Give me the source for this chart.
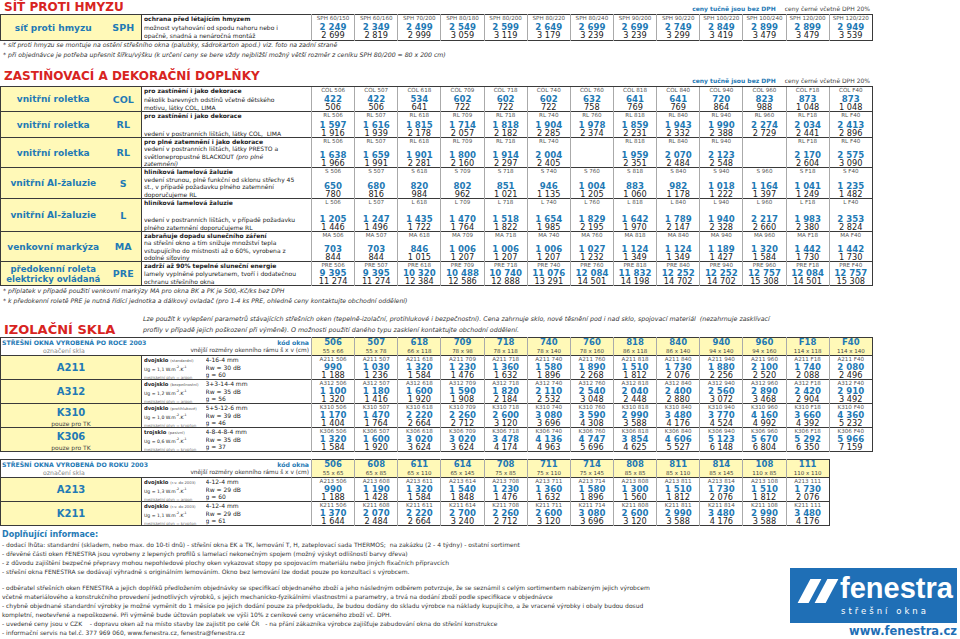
<!DOCTYPE html>
<html lang="cs">
<head>
<meta charset="utf-8">
<script src="https://cdn.jsdelivr.net/npm/chart.js@4.4.1/dist/chart.umd.min.js"></script>
<style>
html,body{margin:0;padding:0;background:#fff}
body{width:960px;height:639px;position:relative;overflow:hidden;font-family:"DejaVu Sans",Verdana,sans-serif;color:#222}
.abs{position:absolute;white-space:nowrap}
.h1{left:4px;font-weight:bold;font-size:12px;color:#d8241f}
.note{font-size:6px;right:90px}
.note b{color:#1f7ab5}
.note span{color:#444;margin-left:9px}
.fn{left:3px;font-size:6.2px;font-style:italic;color:#333}
table{border-collapse:collapse;table-layout:fixed;position:absolute;left:0}
td{padding:0;overflow:hidden;white-space:nowrap;vertical-align:top}
tr.r>td{border-top:1px solid #3a3a3a}
.yl{background:#fff9b8}
.nm{color:#1f7ab5;font-weight:bold;font-size:9px;text-align:center;vertical-align:middle;line-height:10px}
.cdL{color:#1f7ab5;font-weight:bold;font-size:9.5px;text-align:center;vertical-align:middle}
.ds{border-left:1px solid #3a3a3a;font-size:6px;line-height:7px;padding-left:2px}
.ds .b{font-weight:bold}
.pc{border-left:1px solid #aaa;text-align:center}
.pw{display:flex;flex-direction:column;justify-content:space-between;overflow:hidden}
.cd{font-size:5.6px;line-height:6.5px;color:#555}
.nt{font-size:8.6px;line-height:8.5px;font-weight:bold;color:#1f7ab5}
.gr{font-size:8.2px;line-height:8px;color:#222}
.gname{color:#1f7ab5;font-weight:bold;font-size:10px;text-align:center;vertical-align:middle}
.gname .tk{font-size:6px;font-weight:normal;color:#444;line-height:7px}
.gds{font-size:6px;line-height:7.6px;padding-left:2px}
.gds .b{font-weight:bold;font-size:5.2px;color:#222}
.gds .s{color:#555;font-size:3.8px}
.gds .u{font-size:4.6px}
.gds .m{color:#777;font-size:4px}
.gds sup{font-size:3.2px;line-height:0}
.hl{font-size:6.2px;position:relative}
.hl .a{position:absolute;white-space:nowrap}
.hc{text-align:center;border-left:1px solid #aaa}
.hc .c{font-size:8.5px;font-weight:bold;color:#1f7ab5;line-height:9px}
.hc .z{font-size:5.5px;color:#444;line-height:8px}
.intro{left:143px;font-size:6.3px;font-style:italic;line-height:11px;color:#333}
.foot{left:2px;top:529px;font-size:6px;line-height:9px;color:#333}
.foot .tt{font-size:8px;font-weight:bold;color:#1f7ab5;line-height:11px}
.logo{left:790px;top:568px;width:167px;height:55px;background:#1f6fb6}
.sl{position:absolute;top:11px;width:11px;height:24px;background:#fff;transform:skewX(-28deg)}
.www{right:3px;top:624px;font-size:11.5px;font-weight:bold;color:#1f6fb6}
</style>
</head>
<body>
<div id="page"></div>
<script>
// --- síť proti hmyzu
const sphCodes = ['SPH 60/150','SPH 60/160','SPH 70/200','SPH 80/180','SPH 80/200','SPH 80/220','SPH 80/240','SPH 90/200','SPH 90/220','SPH 100/220','SPH 100/240','SPH 120/200','SPH 120/220'];
const sphNet   = [2249, 2349, 2499, 2549, 2599, 2649, 2699, 2699, 2749, 2849, 2899, 2899, 2949];
const sphGross = [2699, 2819, 2999, 3059, 3119, 3179, 3239, 3239, 3299, 3419, 3479, 3479, 3539];

// --- zastiňovací doplňky (rozměry oken)
const shadeSizes = ['506','507','618','709','718','740','760','818','840','940','960','F18','F40'];
const colNet   = [422, 422, 534, 602, 602, 602, 632, 641, 641, 720, 823, 873, 873];
const colGross = [506, 506, 641, 722, 722, 722, 758, 769, 769, 864, 988, 1048, 1048];
const rlNet    = [1597, 1616, 1815, 1714, 1818, 1904, 1978, 1859, 1943, 1990, 2274, 2034, 2413];
const rlGross  = [1916, 1939, 2178, 2057, 2182, 2285, 2374, 2231, 2332, 2388, 2729, 2441, 2896];
const rlbNet   = [1638, 1659, 1901, 1800, 1914, 2004, null, 1959, 2070, 2123, null, 2170, 2575];
const rlbGross = [1966, 1991, 2281, 2160, 2297, 2405, null, 2351, 2484, 2548, null, 2604, 3090];
const sNet     = [650, 680, 820, 802, 851, 946, 1004, 883, 982, 1018, 1164, 1041, 1235];
const sGross   = [780, 816, 984, 962, 1021, 1135, 1205, 1060, 1178, 1222, 1397, 1249, 1482];
const lNet     = [1205, 1247, 1435, 1470, 1518, 1654, 1829, 1642, 1789, 1940, 2217, 1983, 2353];
const lGross   = [1446, 1496, 1722, 1764, 1822, 1985, 2195, 1970, 2147, 2328, 2660, 2380, 2824];
const maNet    = [703, 703, 846, 1006, 1006, 1006, 1027, 1124, 1124, 1189, 1320, 1442, 1442];
const maGross  = [844, 844, 1015, 1207, 1207, 1207, 1232, 1349, 1349, 1427, 1584, 1730, 1730];
const preNet   = [9395, 9395, 10320, 10488, 10740, 11076, 12084, 11832, 12252, 12252, 12757, 12084, 12757];
const preGross = [11274, 11274, 12384, 12586, 12888, 13291, 14501, 14198, 14702, 14702, 15308, 14501, 15308];

// --- izolační skla, okna po roce 2003
const newCodes = ['506','507','618','709','718','740','760','818','840','940','960','F18','F40'];
const newSizes = ['55 x 66','55 x 78','66 x 118','78 x 98','78 x 118','78 x 140','78 x 160','86 x 118','86 x 140','94 x 140','94 x 160','114 x 118','114 x 140'];
const a211Net   = [990, 1030, 1320, 1230, 1360, 1580, 1890, 1510, 1730, 1880, 2100, 1740, 2080];
const a211Gross = [1188, 1236, 1584, 1476, 1632, 1896, 2268, 1812, 2076, 2256, 2520, 2088, 2496];
const a312Net   = [1100, 1180, 1600, 1590, 1820, 2110, 2540, 2040, 2400, 2560, 2890, 2420, 2910];
const a312Gross = [1320, 1416, 1920, 1908, 2184, 2532, 3048, 2448, 2880, 3072, 3468, 2904, 3492];
const k310Net   = [1170, 1470, 2220, 2260, 2600, 3080, 3590, 2990, 3480, 3770, 4160, 3660, 4360];
const k310Gross = [1404, 1764, 2664, 2712, 3120, 3696, 4308, 3588, 4176, 4524, 4992, 4392, 5232];
const k306Net   = [1320, 1600, 3020, 3020, 3478, 4136, 4747, 3854, 4606, 5123, 5670, 5292, 5966];
const k306Gross = [1584, 1920, 3624, 3624, 4174, 4963, 5696, 4625, 5527, 6148, 6804, 6350, 7159];

// --- izolační skla, okna do roku 2003
const oldCodes = ['506','608','611','614','708','711','714','808','811','814','108','111'];
const oldSizes = ['55 x 65','65 x 85','65 x 110','65 x 145','75 x 85','75 x 110','75 x 145','85 x 85','85 x 110','85 x 145','110 x 85','110 x 110'];
const a213Net   = [990, 1190, 1320, 1540, 1230, 1360, 1580, 1300, 1510, 1730, 1510, 1730];
const a213Gross = [1188, 1428, 1584, 1848, 1476, 1632, 1896, 1560, 1812, 2076, 1812, 2076];
const k211Net   = [1370, 2070, 2220, 2700, 2260, 2600, 3080, 2600, 2990, 3480, 2990, 3480];
const k211Gross = [1644, 2484, 2664, 3240, 2712, 3120, 3696, 3120, 3588, 4176, 3588, 4176];

const fmt = n => n == null ? '' : String(n).replace(/\B(?=(\d{3})+(?!\d))/g, ' ');
const PW = 43.15;
const page = document.getElementById('page');
let html = '';

function priceCell(code, net, gross, h) {
  if (net == null) return `<td class="pc"></td>`;
  return `<td class="pc"><div class="pw" style="height:${h}px"><div class="cd">${code}</div>` +
    `<div><div class="nt">${fmt(net)}</div><div class="gr">${fmt(gross)}</div></div></div></td>`;
}
function cols(lead, n) {
  return '<colgroup>' + lead.map(w => `<col style="width:${w}px">`).join('') +
    Array(n).fill(`<col style="width:${PW}px">`).join('') + '</colgroup>';
}
const lines = (arr, h) => `<div class="pw" style="height:${h}px">` + arr.map((l, i) => `<div${i === 0 ? ' class="b"' : ''} style="height:7px">${l}</div>`).join('') + '</div>';
const note = top => `<div class="abs note" style="top:${top}px"><b>ceny tučně jsou bez DPH</b><span>ceny černé včetně DPH 20%</span></div>`;

// ===== SÍŤ PROTI HMYZU
html += `<div class="abs h1" style="top:0px">SÍŤ PROTI HMYZU</div>` + note(5);
html += `<table style="top:14px;width:${311 + 13 * PW}px;border:1px solid #3a3a3a">${cols([105, 36, 170], 13)}<tr style="height:26px">` +
  `<td class="yl nm">síť proti hmyzu</td><td class="yl cdL">SPH</td>` +
  `<td class="ds">${lines(['ochrana před létajícím hmyzem', 'možnost vytahování od spodu nahoru nebo i', 'opačně, snadná a nenáročná montáž'], 24)}</td>` +
  sphCodes.map((c, i) => priceCell(c, sphNet[i], sphGross[i], 24)).join('') + '</tr></table>';
html += `<div class="abs fn" style="top:41px">* síť proti hmyzu se montuje na ostění střešního okna (palubky, sádrokarton apod.) viz. foto na zadní straně</div>`;
html += `<div class="abs fn" style="top:51px">* při objednávce je potřeba upřesnit šířku/výšku (k určení ceny se bere vždy nejbližší možný větší rozměr z ceníku SPH 80/200 = 80 x 200 cm)</div>`;

// ===== ZASTIŇOVACÍ A DEKORAČNÍ DOPLŇKY
html += `<div class="abs h1" style="top:69px">ZASTIŇOVACÍ A DEKORAČNÍ DOPLŇKY</div>` + note(77);
const shadeRows = [
  ['vnitřní roletka', 'COL', ['pro zastínění i jako dekorace', 'několik barevných odstínů včetně dětského', 'motivu, látky COL, LIMA'], colNet, colGross, 25],
  ['vnitřní roletka', 'RL', ['pro zastínění i jako dekorace', '', 'vedení v postranních lištách, látky COL,&nbsp; LIMA'], rlNet, rlGross, 26],
  ['vnitřní roletka', 'RL', ['pro plné zatemnění i jako dekorace', 'vedení v postranních lištách, látky PRESTO a', 'světlonepropustné BLACKOUT <i>(pro plné</i>', '<i>zatemnění)</i>'], rlbNet, rlbGross, 30],
  ['vnitřní Al-žaluzie', 'S', ['hliníková lamelová žaluzie', 'vedení strunou, plně funkční od sklonu střechy 45', 'st., v případě požadavku plného zatemnění', 'doporučujeme RL'], sNet, sGross, 31],
  ['vnitřní Al-žaluzie', 'L', ['hliníková lamelová žaluzie', '', 'vedení v postranních lištách, v případě požadavku', 'plného zatemnění doporučujeme RL'], lNet, lGross, 33],
  ['venkovní markýza', 'MA', ['zabraňuje dopadu slunečního záření', 'na střešní okno a tím snižuje množství tepla', 'vstupujícího do místnosti až o 60%, vyrobena z', 'odolné síťoviny'], maNet, maGross, 30],
  ['předokenní roleta<br>elektricky ovládaná', 'PRE', ['zadrží až 90% tepelné sluneční energie', 'lamely vyplněné polyuretanem, tvoří i dodatečnou', 'ochranu střešního okna'], preNet, preGross, 24],
];
html += `<table style="top:86px;width:${311 + 13 * PW}px;border:1px solid #3a3a3a">${cols([105, 36, 170], 13)}` +
  shadeRows.map(([name, code, text, net, gross, h]) =>
    `<tr class="r" style="height:${h}px"><td class="yl nm"${code === 'PRE' ? ' style="font-size:8.5px"' : ''}>${name}</td><td class="yl cdL">${code}</td>` +
    `<td class="ds">${lines(text, h - 1)}</td>` +
    shadeSizes.map((s, i) => priceCell(code + ' ' + s, net[i], gross[i], h - 1)).join('') + '</tr>').join('') + '</table>';
html += `<div class="abs fn" style="top:287px">* příplatek v případě použití venkovní markýzy MA pro okna BK a PK je 500,-Kč/ks bez DPH</div>`;
html += `<div class="abs fn" style="top:297px">* k předokenní roletě PRE je nutná řídící jednotka a dálkový ovladač (pro 1-4 ks PRE, ohledně ceny kontaktujte obchodní oddělení)</div>`;

// ===== IZOLAČNÍ SKLA
html += `<div class="abs h1" style="top:322px;font-size:13px">IZOLAČNÍ SKLA</div>`;
html += `<div class="abs intro" style="top:313px">Lze použít k vylepšení parametrů stávajících střešních oken (tepelně-izolační, protihlukové i bezpečnostní). Cena zahrnuje sklo, nové těsnění pod i nad sklo, spojovací materiál&nbsp; (nezahrnuje zasklívací<br>profily v případě jejich poškození při výměně). O možnosti použití daného typu zasklení kontaktujte obchodní oddělení.</div>`;

function glassTable(top, title, codes, sizes, rows) {
  const n = codes.length;
  let t = `<table style="top:${top}px;width:${311 + n * PW}px;border:1px solid #3a3a3a">${cols([141, 62, 108], n)}`;
  t += `<tr style="height:18px"><td colspan="3" class="hl"><div style="position:relative;height:17px"><span class="a" style="left:1px;top:1px;color:#1f7ab5;font-weight:bold">${title}</span>` +
    `<span class="a" style="right:2px;top:1px;color:#1f7ab5;font-weight:bold">kód okna</span>` +
    `<span class="a" style="left:42px;top:9px;color:#888">označení skla</span>` +
    `<span class="a" style="right:2px;top:9px;color:#333;font-size:5.8px">vnější rozměry okenního rámu š x v (cm)</span></div></td>` +
    codes.map((c, i) => `<td class="yl hc"><div style="height:17px;overflow:hidden"><div class="c">${c}</div><div class="z">${sizes[i]}</div></div></td>`).join('') + '</tr>';
  t += rows.map(([name, tk, d1, d2, net, gross]) =>
    `<tr class="r" style="height:24px"><td class="yl gname"><div style="height:23px;display:flex;flex-direction:column;justify-content:${tk ? 'space-between' : 'center'};padding-top:${tk ? 3 : 0}px;box-sizing:border-box">` +
    `<div style="line-height:11px">${name}</div>${tk ? '<div class="tk">pouze pro TK</div>' : ''}</div></td>` +
    `<td class="gds" style="border-left:1px solid #3a3a3a"><div style="height:23px;overflow:hidden"><span class="b">${d1[0]}</span> <span class="s">${d1[1]}</span><br><span class="u">Ug = ${d1[2]} W.m<sup>-2</sup>.K<sup>-1</sup></span><br><span class="m">meziskelní plyn = ${d1[3]}</span></div></td>` +
    `<td class="gds"><div style="height:23px;overflow:hidden">${d2[0]}<br>Rw = ${d2[1]} dB<br>g = ${d2[2]}</div></td>` +
    codes.map((c, i) => priceCell(name + ' ' + c, net[i], gross[i], 23)).join('') + '</tr>').join('');
  return t + '</table>';
}
html += glassTable(337, 'STŘEŠNÍ OKNA VYROBENÁ PO ROCE 2003', newCodes, newSizes, [
  ['A211', false, ['dvojsklo', '(standardní)', '1,1', 'argon'], ['4-16-4 mm', 30, 60], a211Net, a211Gross],
  ['A312', false, ['dvojsklo', '(bezpečnostní)', '1,2', 'argon'], ['3+3-14-4 mm', 35, 56], a312Net, a312Gross],
  ['K310', true, ['dvojsklo', '(protihlukové)', '1,0', 'krypton'], ['5+5-12-6 mm', 39, 46], k310Net, k310Gross],
  ['K306', true, ['trojsklo', '(pasivní)', '0,6', 'krypton'], ['4-8-4-8-4 mm', 35, 37], k306Net, k306Gross],
]);
html += glassTable(459, 'STŘEŠNÍ OKNA VYROBENÁ DO ROKU 2003', oldCodes, oldSizes, [
  ['A213', false, ['dvojsklo', '(r.v. do 2003)', '1,3', 'argon'], ['4-12-4 mm', 29, 60], a213Net, a213Gross],
  ['K211', false, ['dvojsklo', '(r.v. do 2003)', '1,1', 'krypton'], ['4-12-4 mm', 29, 61], k211Net, k211Gross],
]);

// ===== Doplňující informace
html += `<div class="abs foot"><div class="tt">Doplňující informace:</div>` +
  ` - dodací lhůta: standardní (skladem, nebo max. do 10-ti dnů) - střešní okna EK a TK, lemování T, H, zateplovací sada THERMOS;&nbsp; na zakázku (2 - 4 týdny) - ostatní sortiment<br>` +
  ` - dřevěné části oken FENESTRA jsou vyrobeny z lepených profilů s lamelací nekonečným spojem (možný výskyt odlišností barvy dřeva)<br>` +
  ` - z důvodu zajištění bezpečné přepravy mohou nepohledové plochy oken vykazovat stopy po spojovacím materiálu nebo jiných fixačních přípravcích<br>` +
  ` - střešní okna FENESTRA se dodávají výhradně s originálním lemováním. Okno bez lemování lze dodat pouze po konzultaci s výrobcem.<br>` +
  `<div style="height:7px"></div>` +
  ` - odběratel střešních oken FENESTRA a jejich doplňků předložením objednávky se specifikací objednaného zboží a jeho následným odběrem potvrzuje, že se seznámil s celým sortimentem nabízeným jejich výrobcem<br>` +
  `včetně materiálového a konstrukčního provedení jednotlivých výrobků, s jejich mechanicko-fyzikálními vlastnostmi a parametry, a trvá na dodání zboží podle specifikace v objednávce<br>` +
  ` - chybně objednané standardní výrobky je možné vyměnit do 1 měsíce po jejich dodání pouze za předpokladu, že budou dodány do skladu výrobce na náklady kupujícího, a že vracené výrobky i obaly budou dosud<br>` +
  `kompletní, neotevřené a nepoškozené. Při výměně bude účtován poplatek ve výši 10% z ceníkové ceny vráceného zboží vč. DPH.<br>` +
  ` - uvedené ceny jsou v CZK&nbsp;&nbsp;&nbsp; - dopravu oken až na místo stavby lze zajistit po celé ČR&nbsp;&nbsp; - na přání zákazníka výrobce zajišťuje zabudování okna do střešní konstrukce<br>` +
  ` - informační servis na tel.č. 377 969 060, www.fenestra.cz, fenestra@fenestra.cz</div>`;

// ===== logo
html += `<div class="abs logo"><div class="sl" style="left:14px"></div><div class="sl" style="left:31px"></div>` +
  `<div class="abs" style="left:50px;top:4px;color:#fff;font-family:'Liberation Sans',Arial,sans-serif;font-weight:bold;font-size:29px">fenestra</div>` +
  `<div class="abs" style="left:51px;top:38px;color:#fff;font-size:8.5px;letter-spacing:3px">střešní okna</div></div>` +
  `<div class="abs www">www.fenestra.cz</div>`;

page.innerHTML = html;
</script>
</body>
</html>
